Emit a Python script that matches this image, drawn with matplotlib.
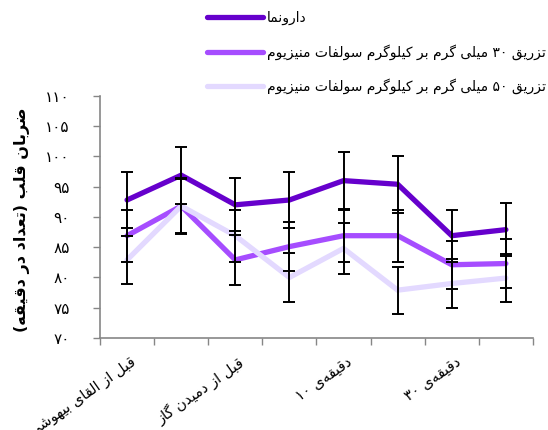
import re
import numpy as np
import matplotlib
matplotlib.use('Agg')
import matplotlib.pyplot as plt

# ------------------------------------------------------------
# داده‌ها: ضربان قلب در هشت زمان اندازه‌گیری
# ------------------------------------------------------------
x_labels = ['قبل از القای بیهوشی', '', 'قبل از دمیدن گاز', '',
            'دقیقه‌ی ۱۰', '', 'دقیقه‌ی ۳۰', '']

series_names = ['دارونما',
                'تزریق ۳۰ میلی گرم بر کیلوگرم سولفات منیزیوم',
                'تزریق ۵۰ میلی گرم بر کیلوگرم سولفات منیزیوم']

placebo_mean = [92.8, 96.9, 92.0, 92.8, 96.0, 95.4, 86.9, 87.9]
placebo_err = [4.6, 4.7, 4.4, 4.6, 4.7, 4.7, 4.3, 4.4]
mg30_mean = [86.9, 91.8, 82.9, 85.1, 86.9, 86.9, 82.1, 82.3]
mg30_err = [4.3, 4.6, 4.1, 4.0, 4.3, 4.3, 4.0, 4.1]
mg50_mean = [82.9, 91.8, 86.9, 80.0, 84.8, 77.9, 79.0, 79.9]
mg50_err = [4.0, 4.5, 4.3, 4.1, 4.2, 3.9, 4.0, 4.0]

y_ticks = [70, 75, 80, 85, 90, 95, 100, 105, 110]
y_title = 'ضربان قلب (تعداد در دقیقه)'

colors = ['#6600CC', '#A64DFF', '#E3D9FF']

# ------------------------------------------------------------
# شکل‌دهی حروف فارسی (matplotlib خودش اتصال و راست‌به‌چپ ندارد)
# (isolated, final, initial, medial) ; initial=None یعنی به بعدی وصل نمی‌شود
# ------------------------------------------------------------
FORMS = {
    'ا': ('\uFE8D', '\uFE8E', None, None),
    'ب': ('\uFE8F', '\uFE90', '\uFE91', '\uFE92'),
    'ت': ('\uFE95', '\uFE96', '\uFE97', '\uFE98'),
    'د': ('\uFEA9', '\uFEAA', None, None),
    'ر': ('\uFEAD', '\uFEAE', None, None),
    'ز': ('\uFEAF', '\uFEB0', None, None),
    'س': ('\uFEB1', '\uFEB2', '\uFEB3', '\uFEB4'),
    'ش': ('\uFEB5', '\uFEB6', '\uFEB7', '\uFEB8'),
    'ض': ('\uFEBD', '\uFEBE', '\uFEBF', '\uFEC0'),
    'ع': ('\uFEC9', '\uFECA', '\uFECB', '\uFECC'),
    'ف': ('\uFED1', '\uFED2', '\uFED3', '\uFED4'),
    'ق': ('\uFED5', '\uFED6', '\uFED7', '\uFED8'),
    'ل': ('\uFEDD', '\uFEDE', '\uFEDF', '\uFEE0'),
    'م': ('\uFEE1', '\uFEE2', '\uFEE3', '\uFEE4'),
    'ن': ('\uFEE5', '\uFEE6', '\uFEE7', '\uFEE8'),
    'ه': ('\uFEE9', '\uFEEA', '\uFEEB', '\uFEEC'),
    'و': ('\uFEED', '\uFEEE', None, None),
    'ی': ('\uFBFC', '\uFBFD', '\uFBFE', '\uFBFF'),
    'ک': ('\uFB8E', '\uFB8F', '\uFB90', '\uFB91'),
    'گ': ('\uFB92', '\uFB93', '\uFB94', '\uFB95'),
}
MIRROR = str.maketrans('()', ')(')
FA_DIGITS = str.maketrans('0123456789', '۰۱۲۳۴۵۶۷۸۹')


def fa(text):
    chars = list(text)
    shaped = []
    for i, ch in enumerate(chars):
        if ch not in FORMS:
            shaped.append(ch)
            continue
        prev = chars[i - 1] if i > 0 else ''
        nxt = chars[i + 1] if i + 1 < len(chars) else ''
        join_prev = prev in FORMS and FORMS[prev][2] is not None
        join_next = FORMS[ch][2] is not None and nxt in FORMS
        iso, fin, ini, med = FORMS[ch]
        if join_prev and join_next:
            shaped.append(med)
        elif join_prev:
            shaped.append(fin)
        elif join_next:
            shaped.append(ini)
        else:
            shaped.append(iso)
    s = ''.join(shaped).replace('\u200c', '')
    runs = re.findall(r'\d+|\D+', s)
    out = []
    for r in reversed(runs):
        out.append(r if r[0].isdigit() else r[::-1].translate(MIRROR))
    return ''.join(out)


plt.rcParams['font.family'] = ['DejaVu Sans']

fig = plt.figure(figsize=(5.48, 4.30), dpi=100)
ax = fig.add_axes([0.1825, 0.214, 0.790, 0.563])

x = np.arange(len(placebo_mean))
means = [placebo_mean, mg30_mean, mg50_mean]
errs = [placebo_err, mg30_err, mg50_err]

handles = []
for m, c, name in zip(means, colors, series_names):
    h, = ax.plot(x, m, color=c, lw=3.8, solid_capstyle='round',
                 solid_joinstyle='miter', label=fa(name), zorder=2)
    handles.append(h)
for m, e in zip(means, errs):
    ax.errorbar(x, m, yerr=e, fmt='none', ecolor='black', elinewidth=1.4,
                capsize=4.2, capthick=1.4, zorder=3)

ax.set_xlim(-0.5, len(x) - 0.5)
ax.set_ylim(70, 110)
ax.set_yticks(y_ticks)
ax.set_yticklabels([str(v).translate(FA_DIGITS) for v in y_ticks], fontsize=11)
ax.set_xticks(np.arange(len(x) + 1) - 0.5)
ax.set_xticklabels([])
ax.tick_params(axis='y', length=5, width=1, color='#868686', pad=17)
ax.tick_params(axis='x', length=5, width=1, color='#868686')
for lab, xi in zip(x_labels, x):
    if lab:
        ax.text(xi + 0.05, 67.3, fa(lab), rotation=35, ha='right', va='top',
                rotation_mode='anchor', fontsize=10.5)

for side in ['top', 'right']:
    ax.spines[side].set_visible(False)
for side in ['left', 'bottom']:
    ax.spines[side].set_color('#868686')
    ax.spines[side].set_linewidth(1.2)

fig.text(0.04, 0.49, fa(y_title), rotation=90, ha='center', va='center',
         fontsize=11.5, fontweight='bold')

ax.legend(handles=handles, loc='upper left', bbox_to_anchor=(207 / 548, 1 - 11 / 430),
          bbox_transform=fig.transFigure, frameon=False, fontsize=10,
          handlelength=4.0, handletextpad=0.3, labelspacing=1.35,
          borderpad=0, borderaxespad=0)

fig.savefig('out.png', dpi=100)
